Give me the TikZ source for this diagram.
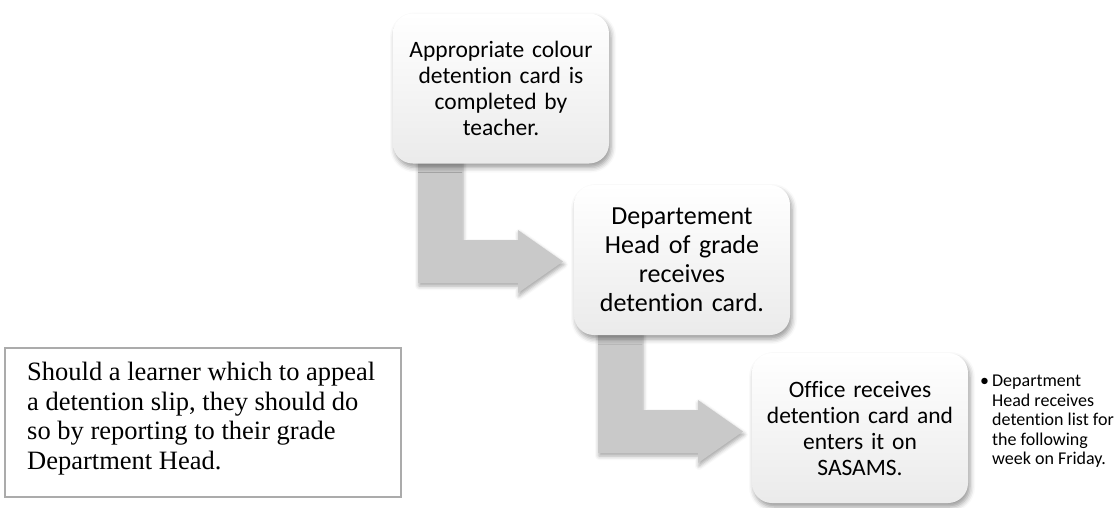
\documentclass[tikz,border=0pt]{standalone}
\usepackage{fontspec}
\setmainfont{Carlito}[Ligatures={NoCommon}]
\newfontfamily\timesfont{Liberation Serif}
\usetikzlibrary{shadows.blur}
\tikzset{
  card/.style={rounded corners=20pt, top color=white, bottom color=black!8,
    minimum width=216pt, minimum height=150pt, text width=205pt, align=center,
    inner sep=0pt, font=\fontsize{23.5}{26}\selectfont,
    blur shadow={shadow xshift=2pt, shadow yshift=-4pt, shadow blur radius=5pt, shadow opacity=40}},
  bigcard/.style={card, font=\fontsize{26}{29}\selectfont},
  bentarrow/.style={fill=black!21,
    blur shadow={shadow xshift=1pt, shadow yshift=-3pt, shadow blur radius=4pt, shadow opacity=35}},
  noteborder/.style={draw=black!33, line width=2pt},
  notetext/.style={anchor=north west, inner sep=0pt, align=left,
    font=\timesfont\fontsize{26.5}{29.5}\selectfont},
  bullettext/.style={anchor=north west, inner sep=0pt, align=left,
    font=\fontsize{18}{19.5}\selectfont}
}
\begin{document}
\begin{tikzpicture}[x=1pt,y=-1pt]
\useasboundingbox (0,0) rectangle (1118,507);
% card positions
\path (501,88.5) coordinate (p1) (682,260) coordinate (p2) (860,428) coordinate (p3);
% bent arrows (drawn first, under the cards)
\path[bentarrow]
  ([xshift=-83pt]p1 |- 0,152) -- ++(0,131) -- ++(100,0) -- ++(0,10) -- ++(45,-31.5)
  -- ++(-45,-31.5) -- ++(0,10) -- ++(-56,0) -- ++(0,-88) -- cycle;
\path[bentarrow]
  ([xshift=-84pt]p2 |- 0,323) -- ++(0,130) -- ++(100,0) -- ++(0,10) -- ++(45,-31.5)
  -- ++(-45,-31.5) -- ++(0,10) -- ++(-56,0) -- ++(0,-87) -- cycle;
% cards
\node[card] (b1) at (p1) {Appropriate colour\\detention card is\\completed by\\teacher.};
\node[bigcard] (b2) at (p2) {Departement\\Head of grade\\receives\\detention card.};
\node[card] (b3) at (p3) {Office receives\\detention card and\\enters it on\\SASAMS.};
% bullet text
\node[bullettext] (bl) at (980,373) {\begin{tabular}{@{}l@{\hspace{3pt}}l@{}}
\textbullet & Department\\ & Head receives\\ & detention list for\\ & the following\\ & week on Friday.\end{tabular}};
% note box
\draw[noteborder] (5,348) rectangle (401,497);
\node[notetext] (nb) at (27,362) {Should a learner which to appeal\\a detention slip, they should do\\so by reporting to their grade\\Department Head.};
\end{tikzpicture}
\end{document}
